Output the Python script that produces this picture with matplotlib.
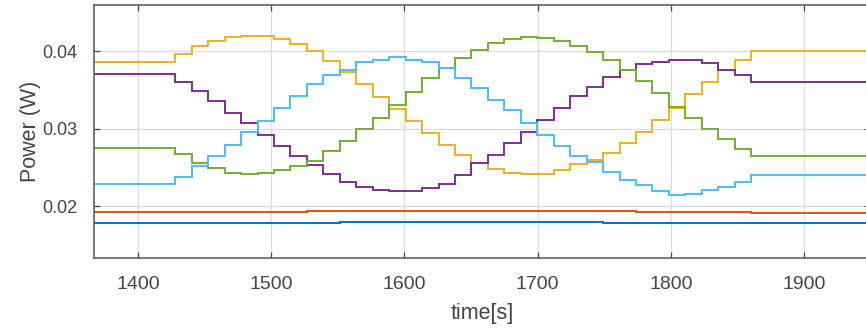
import matplotlib
matplotlib.use("Agg")
import matplotlib.pyplot as plt

# ---- data ----
step_edges = [1428.0, 1440.3, 1452.7, 1465.0, 1477.4, 1489.8, 1502.1, 1514.5, 1526.8,
              1539.2, 1551.5, 1563.9, 1576.2, 1588.6, 1600.9, 1613.3, 1625.6, 1638.0,
              1650.3, 1662.7, 1675.0, 1687.4, 1699.7, 1712.1, 1724.4, 1736.8, 1749.1,
              1761.5, 1773.8, 1786.2, 1798.5, 1810.9, 1823.2, 1835.6, 1847.9, 1860.3]
t_start = 1360.0
t_end = 1960.0

ch_blue = [0.0178] * 11 + [0.0179] * 16 + [0.0178] * 10
ch_red = [0.0192] * 9 + [0.0193] * 4 + [0.0194] * 8 + [0.0193] * 8 + [0.0192] * 7 + [0.0191]
ch_yellow = [0.0386, 0.0396, 0.0406, 0.0413, 0.0418, 0.0420, 0.0420, 0.0416, 0.0409, 0.0400,
             0.0387, 0.0373, 0.0358, 0.0341, 0.0325, 0.0310, 0.0294, 0.0279, 0.0266, 0.0255,
             0.0248, 0.0243, 0.0241, 0.0241, 0.0247, 0.0254, 0.0259, 0.0268, 0.0281, 0.0296,
             0.0311, 0.0327, 0.0344, 0.0360, 0.0376, 0.0388, 0.0400]
ch_purple = [0.0370, 0.0360, 0.0348, 0.0335, 0.0320, 0.0307, 0.0292, 0.0277, 0.0264, 0.0253,
             0.0241, 0.0231, 0.0225, 0.0221, 0.0219, 0.0219, 0.0223, 0.0229, 0.0240, 0.0255,
             0.0266, 0.0281, 0.0296, 0.0311, 0.0327, 0.0342, 0.0354, 0.0367, 0.0375, 0.0383,
             0.0386, 0.0388, 0.0388, 0.0384, 0.0376, 0.0369, 0.0360]
ch_green = [0.0275, 0.0267, 0.0256, 0.0249, 0.0243, 0.0241, 0.0242, 0.0246, 0.0251, 0.0258,
            0.0271, 0.0284, 0.0299, 0.0314, 0.0330, 0.0347, 0.0365, 0.0378, 0.0391, 0.0401,
            0.0410, 0.0415, 0.0418, 0.0417, 0.0413, 0.0407, 0.0399, 0.0388, 0.0376, 0.0361,
            0.0346, 0.0328, 0.0313, 0.0300, 0.0287, 0.0274, 0.0264]
ch_lightblue = [0.0229, 0.0238, 0.0251, 0.0264, 0.0279, 0.0296, 0.0310, 0.0326, 0.0342, 0.0358,
                0.0369, 0.0376, 0.0386, 0.0389, 0.0392, 0.0389, 0.0386, 0.0378, 0.0365, 0.0352,
                0.0337, 0.0324, 0.0307, 0.0292, 0.0277, 0.0264, 0.0257, 0.0244, 0.0234, 0.0227,
                0.0219, 0.0214, 0.0216, 0.0221, 0.0225, 0.0231, 0.0240]

xticks = [1400, 1500, 1600, 1700, 1800, 1900]
yticks = [0.02, 0.03, 0.04]
ytick_labels = ["0.02", "0.03", "0.04"]

series = [
    (ch_blue, (0.000, 0.447, 0.741)),
    (ch_red, (0.850, 0.325, 0.098)),
    (ch_yellow, (0.929, 0.694, 0.125)),
    (ch_purple, (0.494, 0.184, 0.556)),
    (ch_green, (0.466, 0.674, 0.188)),
    (ch_lightblue, (0.301, 0.745, 0.933)),
]

plt.rcParams['font.family'] = ['Liberation Sans', 'DejaVu Sans']

W, H = 866, 328
fig = plt.figure(figsize=(W / 100, H / 100), dpi=100)
ax_l, ax_r, ax_t, ax_b = 94, 870, 5, 258
ax = fig.add_axes([ax_l / W, 1 - ax_b / H, (ax_r - ax_l) / W, (ax_b - ax_t) / H])

xs = [t_start] + step_edges + [t_end]
for vals, col in series:
    ys = list(vals) + [vals[-1]]
    ax.step(xs, ys, where='post', color=col, lw=1.4, solid_joinstyle='miter')

ax.set_xlim(1367, 1949.5)
ax.set_ylim(0.01329, 0.04594)
ax.set_xticks(xticks)
ax.set_xticklabels([str(v) for v in xticks], fontsize=14, color='#444444')
ax.set_yticks(yticks)
ax.set_yticklabels(ytick_labels, fontsize=13, color='#444444')
ax.grid(True, color='#dcdcdc', lw=0.9)
ax.set_axisbelow(True)
ax.tick_params(direction='in', length=4, width=0.9, color='#444444',
               top=True, right=True)
ax.tick_params(axis='x', pad=13)
ax.tick_params(axis='y', pad=12)
for s in ax.spines.values():
    s.set_color('#555555')
    s.set_linewidth(1.1)

ax.set_xlabel('time[s]', fontsize=15.5, color='#444444', labelpad=7)
ax.set_ylabel('Power (W)', fontsize=15.5, color='#444444', labelpad=1)

fig.savefig('out.png', dpi=100)
